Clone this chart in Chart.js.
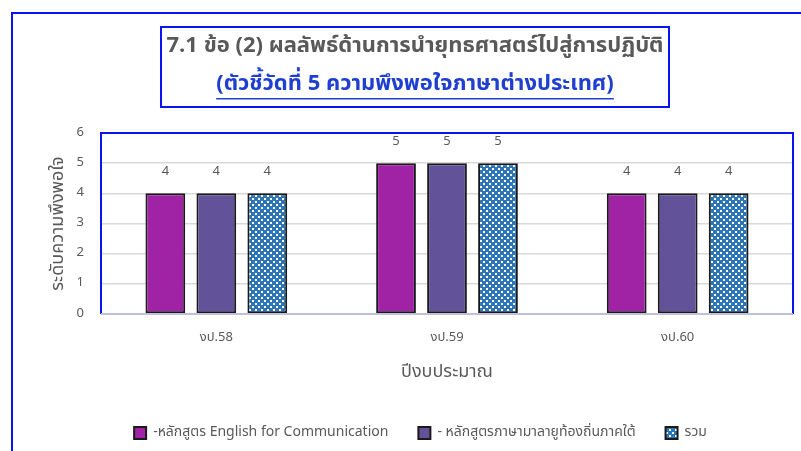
<!DOCTYPE html>
<html><head><meta charset="utf-8">
<script src="https://cdn.jsdelivr.net/npm/chart.js@4/dist/chart.umd.min.js"></script>
<style>html,body{margin:0;padding:0;background:#fff}#wrap{width:801px;height:451px}</style>
</head><body><div id="wrap"><canvas id="c" width="801" height="451"></canvas></div>
<script>
const categories = ['งป.58', 'งป.59', 'งป.60'];
const seriesNames = ['-หลักสูตร English for Communication', '- หลักสูตรภาษามาลายูท้องถิ่นภาคใต้', 'รวม'];
const englishValues = [4, 5, 4];
const malayValues = [4, 5, 4];
const totalValues = [4, 5, 4];
const yTicks = [0, 1, 2, 3, 4, 5, 6];
const titleLine1 = '7.1 ข้อ (2) ผลลัพธ์ด้านการนำยุทธศาสตร์ไปสู่การปฏิบัติ';
const titleLine2 = '(ตัวชี้วัดที่ 5 ความพึงพอใจภาษาต่างประเทศ)';
const yTitle = 'ระดับความพึงพอใจ';
const xTitle = 'ปีงบประมาณ';

const FONT = '"Noto Sans Thai", "Noto Sans", Tahoma, sans-serif';
const GRAY = '#595959';
const BLUE = '#0A14F0';

function makePattern() {
  const p = document.createElement('canvas');
  p.width = 6; p.height = 6;
  const g = p.getContext('2d');
  g.fillStyle = '#2E75B6'; g.fillRect(0, 0, 6, 6);
  g.fillStyle = '#ffffff';
  g.fillRect(0, 0, 2, 2); g.fillRect(3, 3, 2, 2);
  return document.getElementById('c').getContext('2d').createPattern(p, 'repeat');
}
const pattern = makePattern();

const decorPlugin = {
  id: 'decor',
  beforeDraw(chart) {
    const ctx = chart.ctx;
    ctx.save();
    ctx.fillStyle = '#fff';
    ctx.fillRect(0, 0, chart.width, chart.height);
    ctx.strokeStyle = BLUE; ctx.lineWidth = 2;
    ctx.beginPath();
    ctx.moveTo(12, 451); ctx.lineTo(12, 13); ctx.lineTo(801, 13);
    ctx.stroke();
    ctx.strokeRect(161, 27, 508, 80);
    ctx.textAlign = 'center'; ctx.textBaseline = 'middle';
    ctx.font = 'bold 22px ' + FONT;
    ctx.fillStyle = GRAY;
    ctx.fillText(titleLine1, 415, 48);
    ctx.font = 'bold 22px ' + FONT;
    ctx.fillStyle = '#1F3FD0';
    ctx.fillText(titleLine2, 415, 86);
    const w = ctx.measureText(titleLine2).width;
    ctx.fillRect(415 - w / 2, 98, w, 1.5);
    ctx.restore();
  },
  afterDatasetsDraw(chart) {
    const ctx = chart.ctx;
    const a = chart.chartArea;
    ctx.save();
    ctx.strokeStyle = BLUE; ctx.lineWidth = 2;
    ctx.beginPath();
    ctx.moveTo(a.left, a.bottom); ctx.lineTo(a.left, a.top); ctx.lineTo(a.right, a.top); ctx.lineTo(a.right, a.bottom);
    ctx.stroke();
    ctx.strokeStyle = '#BFBFE0'; ctx.lineWidth = 2;
    ctx.beginPath(); ctx.moveTo(a.left, a.bottom); ctx.lineTo(a.right, a.bottom); ctx.stroke();
    ctx.fillStyle = GRAY; ctx.font = '13px ' + FONT;
    ctx.textAlign = 'center'; ctx.textBaseline = 'middle';
    chart.data.datasets.forEach((ds, i) => {
      chart.getDatasetMeta(i).data.forEach((bar, j) => {
        ctx.fillText(String(ds.data[j]), bar.x, bar.y - 21);
      });
    });
    ctx.restore();
  }
};

new Chart(document.getElementById('c'), {
  type: 'bar',
  data: {
    labels: categories,
    datasets: [
      { label: seriesNames[0], data: englishValues, backgroundColor: '#A023A6', borderColor: '#1a1a1a', borderWidth: 2, borderSkipped: false },
      { label: seriesNames[1], data: malayValues, backgroundColor: '#62529A', borderColor: '#1a1a1a', borderWidth: 2, borderSkipped: false },
      { label: seriesNames[2], data: totalValues, backgroundColor: pattern, borderColor: '#1a1a1a', borderWidth: 2, borderSkipped: false }
    ]
  },
  options: {
    responsive: false,
    animation: false,
    devicePixelRatio: 1,
    categoryPercentage: 0.663,
    barPercentage: 0.78,
    layout: { padding: { top: 133, left: 48, right: 8, bottom: 1 } },
    plugins: {
      title: { display: false },
      tooltip: { enabled: false },
      legend: {
        position: 'bottom',
        labels: { boxWidth: 12, boxHeight: 12, padding: 30, color: GRAY, font: { family: FONT, size: 14 } }
      }
    },
    scales: {
      x: {
        grid: { display: false, drawTicks: false },
        border: { display: false },
        ticks: { color: GRAY, font: { family: FONT, size: 13 }, padding: 17 },
        title: { display: true, text: xTitle, color: GRAY, font: { family: FONT, size: 18 }, padding: { top: 0, bottom: 12 } },
        afterFit(s) { s.height = 82; }
      },
      y: {
        min: 0, max: 6,
        afterBuildTicks(s) { s.ticks = yTicks.map(v => ({ value: v })); },
        grid: { color: '#D9D9D9', lineWidth: 1.5, drawTicks: false },
        border: { display: false },
        ticks: { color: GRAY, font: { family: FONT, size: 13 }, padding: 17 },
        title: { display: true, text: yTitle, color: GRAY, font: { family: FONT, size: 18 }, padding: { top: 1, bottom: 0 } },
        afterFit(s) { s.width = 53; }
      }
    }
  },
  plugins: [decorPlugin]
});
</script></body></html>
